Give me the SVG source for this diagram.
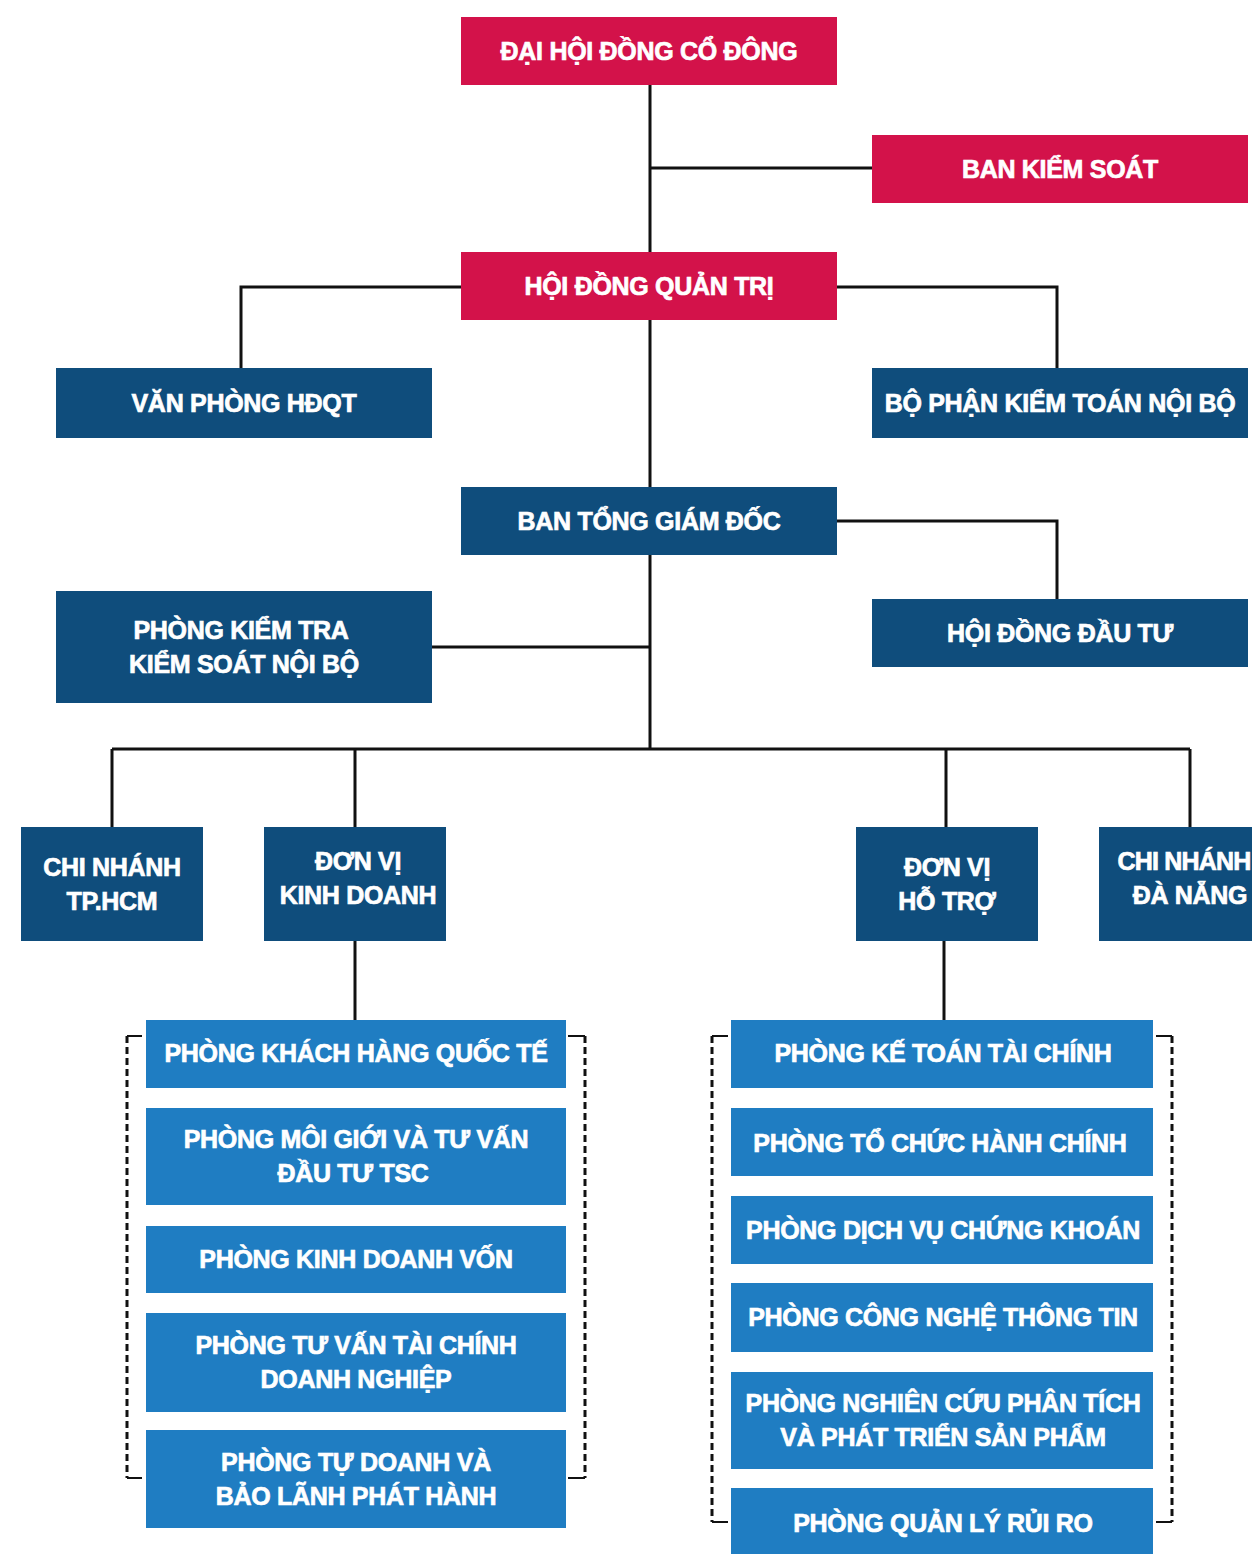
<svg xmlns="http://www.w3.org/2000/svg" width="1252" height="1554" viewBox="0 0 1252 1554">
<style>
.red{fill:#d3124a}
.navy{fill:#0f4d7c}
.blue{fill:#1f7dc2}
text{font-family:"Liberation Sans",Arial,sans-serif;font-weight:bold;font-size:25px;fill:#ffffff;stroke:#ffffff;stroke-width:0.7;text-anchor:middle;letter-spacing:-0.3px}
.ln{stroke:#111111;stroke-width:3;fill:none}
.br{stroke:#111111;stroke-width:3;fill:none;stroke-dasharray:7 4}
.tk{stroke:#111111;stroke-width:2;fill:none}
</style>
<rect width="1252" height="1554" fill="#ffffff"/>
<g id="connectors">
<path class="ln" d="M650 85V487"/>
<path class="ln" d="M650 168H872"/>
<path class="ln" d="M461 287H241V368"/>
<path class="ln" d="M837 287H1057V368"/>
<path class="ln" d="M837 521H1057V599"/>
<path class="ln" d="M650 555V749"/>
<path class="ln" d="M432 647H650"/>
<path class="ln" d="M112 749H1190"/>
<path class="ln" d="M112 749V827M355 749V827M946 749V827M1190 749V827"/>
<path class="ln" d="M355 941V1020"/>
<path class="ln" d="M944 941V1020"/>
<path class="br" d="M127 1036V1478M585 1036V1478M712 1036V1522M1172 1036V1522"/>
<path class="tk" d="M127 1036H142M127 1478H142M585 1036H568M585 1478H568M712 1036H728M712 1522H728M1172 1036H1156M1172 1522H1156"/>
</g>
<g id="dhdcd"><rect class="red" x="461" y="17" width="376" height="68"/><text x="649" y="60">ĐẠI HỘI ĐỒNG CỔ ĐÔNG</text></g>
<g id="bks"><rect class="red" x="872" y="135" width="376" height="68"/><text x="1060" y="178">BAN KIỂM SOÁT</text></g>
<g id="hdqt"><rect class="red" x="461" y="252" width="376" height="68"/><text x="649" y="295">HỘI ĐỒNG QUẢN TRỊ</text></g>
<g id="vphdqt"><rect class="navy" x="56" y="368" width="376" height="70"/><text x="244" y="412">VĂN PHÒNG HĐQT</text></g>
<g id="bpktnb"><rect class="navy" x="872" y="368" width="376" height="70"/><text x="1060" y="412">BỘ PHẬN KIỂM TOÁN NỘI BỘ</text></g>
<g id="btgd"><rect class="navy" x="461" y="487" width="376" height="68"/><text x="649" y="530">BAN TỔNG GIÁM ĐỐC</text></g>
<g id="pktks"><rect class="navy" x="56" y="591" width="376" height="112"/><text x="241" y="639">PHÒNG KIỂM TRA</text><text x="244" y="673">KIỂM SOÁT NỘI BỘ</text></g>
<g id="hddt"><rect class="navy" x="872" y="599" width="376" height="68"/><text x="1060" y="642">HỘI ĐỒNG ĐẦU TƯ</text></g>
<g id="cnhcm"><rect class="navy" x="21" y="827" width="182" height="114"/><text x="112" y="876">CHI NHÁNH</text><text x="112" y="910">TP.HCM</text></g>
<g id="dvkd"><rect class="navy" x="264" y="827" width="182" height="114"/><text x="358" y="870">ĐƠN VỊ</text><text x="358" y="904">KINH DOANH</text></g>
<g id="dvht"><rect class="navy" x="856" y="827" width="182" height="114"/><text x="947" y="876">ĐƠN VỊ</text><text x="947" y="910">HỖ TRỢ</text></g>
<g id="cndn"><rect class="navy" x="1099" y="827" width="182" height="114"/><text x="1184" y="870" style="letter-spacing:-0.8px">CHI NHÁNH</text><text x="1190" y="904">ĐÀ NẴNG</text></g>
<g id="pkhqt"><rect class="blue" x="146" y="1020" width="420" height="68"/><text x="356" y="1062">PHÒNG KHÁCH HÀNG QUỐC TẾ</text></g>
<g id="pmgtv"><rect class="blue" x="146" y="1108" width="420" height="97"/><text x="356" y="1148">PHÒNG MÔI GIỚI VÀ TƯ VẤN</text><text x="353" y="1182">ĐẦU TƯ TSC</text></g>
<g id="pkdv"><rect class="blue" x="146" y="1226" width="420" height="67"/><text x="356" y="1268">PHÒNG KINH DOANH VỐN</text></g>
<g id="ptvtc"><rect class="blue" x="146" y="1313" width="420" height="99"/><text x="356" y="1354">PHÒNG TƯ VẤN TÀI CHÍNH</text><text x="356" y="1388">DOANH NGHIỆP</text></g>
<g id="ptdbl"><rect class="blue" x="146" y="1430" width="420" height="98"/><text x="356" y="1471">PHÒNG TỰ DOANH VÀ</text><text x="356" y="1505">BẢO LÃNH PHÁT HÀNH</text></g>
<g id="pkttc"><rect class="blue" x="731" y="1020" width="422" height="68"/><text x="943" y="1062">PHÒNG KẾ TOÁN TÀI CHÍNH</text></g>
<g id="ptchc"><rect class="blue" x="731" y="1108" width="422" height="68"/><text x="940" y="1152">PHÒNG TỔ CHỨC HÀNH CHÍNH</text></g>
<g id="pdvck"><rect class="blue" x="731" y="1196" width="422" height="68"/><text x="943" y="1239">PHÒNG DỊCH VỤ CHỨNG KHOÁN</text></g>
<g id="pcntt"><rect class="blue" x="731" y="1283" width="422" height="69"/><text x="943" y="1326">PHÒNG CÔNG NGHỆ THÔNG TIN</text></g>
<g id="pnc"><rect class="blue" x="731" y="1372" width="422" height="97"/><text x="943" y="1412">PHÒNG NGHIÊN CỨU PHÂN TÍCH</text><text x="943" y="1446">VÀ PHÁT TRIỂN SẢN PHẨM</text></g>
<g id="pqlrr"><rect class="blue" x="731" y="1488" width="422" height="70"/><text x="943" y="1532">PHÒNG QUẢN LÝ RỦI RO</text></g>
</svg>
